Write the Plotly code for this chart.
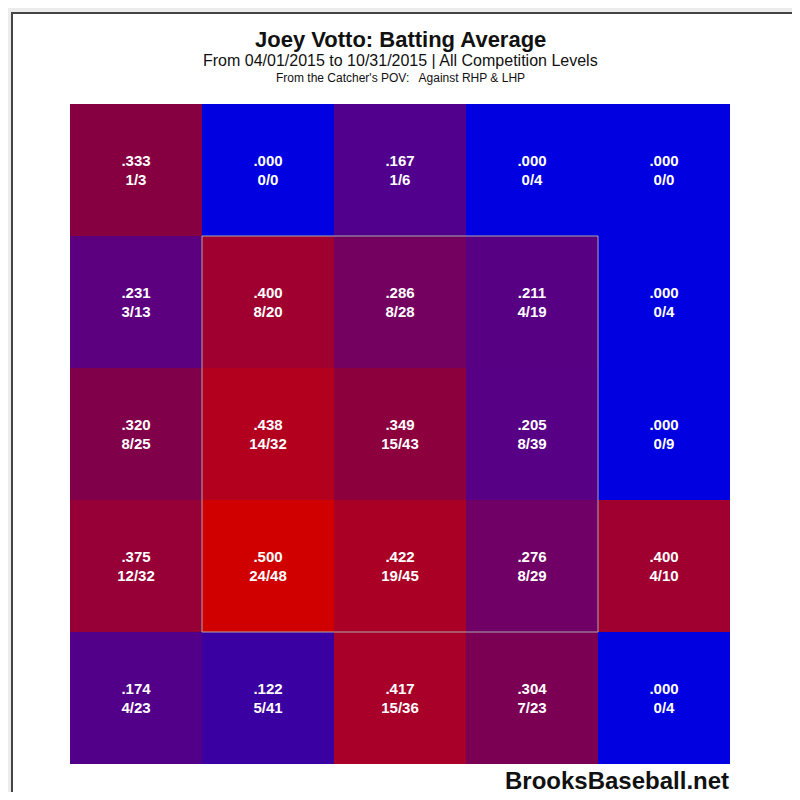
import plotly.graph_objects as go

# zone grid, rows top to bottom, columns left to right (catcher's POV)
hits = [
    [1, 0, 1, 0, 0],
    [3, 8, 8, 4, 0],
    [8, 14, 15, 8, 0],
    [12, 24, 19, 8, 4],
    [4, 5, 15, 7, 0],
]
at_bats = [
    [3, 0, 6, 4, 0],
    [13, 20, 28, 19, 4],
    [25, 32, 43, 39, 9],
    [32, 48, 45, 29, 10],
    [23, 41, 36, 23, 4],
]
avg_labels = [
    [".333", ".000", ".167", ".000", ".000"],
    [".231", ".400", ".286", ".211", ".000"],
    [".320", ".438", ".349", ".205", ".000"],
    [".375", ".500", ".422", ".276", ".400"],
    [".174", ".122", ".417", ".304", ".000"],
]

avg = [[h / ab if ab else 0 for h, ab in zip(hr, ar)] for hr, ar in zip(hits, at_bats)]
text = [[f"<b>{a}<br>{h}/{ab}</b>" for a, h, ab in zip(lr, hr, ar)]
        for lr, hr, ar in zip(avg_labels, hits, at_bats)]

scale = [
    [0.0, "#0000e0"], [0.33, "#50008c"], [0.46, "#5c0080"], [0.57, "#740060"],
    [0.67, "#870040"], [0.8, "#a00030"], [1.0, "#d00000"],
]

fig = go.Figure(go.Heatmap(
    z=avg, x=list(range(5)), y=list(range(5)),
    text=text, texttemplate="%{text}",
    textfont=dict(color="white", size=15, family="Liberation Sans"),
    colorscale=scale, zmin=0, zmax=0.5, showscale=False, hoverinfo="skip",
))

# page pixel -> paper coords (page body has an 8px offset)
def py(p):
    return (756 - p) / 660

def px_(p):
    return (p - 62) / 660

fig.add_shape(type="rect", xref="paper", yref="paper", layer="below",
              x0=px_(4), x1=px_(796), y0=py(793), y1=py(5),
              fillcolor="white", line=dict(color="#444", width=2))
# strike zone
fig.add_shape(type="rect", x0=0.5, x1=3.5, y0=0.5, y1=3.5,
              line=dict(color="#aaaaaa", width=1), layer="above")

def label(txt, x, y, size):
    fig.add_annotation(text=txt, xref="paper", yref="paper", x=x, y=y,
                       xanchor="center", yanchor="middle", showarrow=False,
                       font=dict(size=size, color="#111"))

label("<b>Joey Votto: Batting Average</b>", 0.5, py(31), 22)
label("From 04/01/2015 to 10/31/2015 | All Competition Levels", 0.5, py(52), 16)
label("From the Catcher's POV:   Against RHP & LHP", 0.5, py(70), 12)
label("<b>BrooksBaseball.net</b>", px_(609), py(772), 24)

fig.update_xaxes(visible=False, range=[-0.5, 4.5])
fig.update_yaxes(visible=False, range=[4.5, -0.5])
fig.update_layout(
    width=784, height=784, margin=dict(l=62, r=62, t=96, b=28),
    paper_bgcolor="#ececec", plot_bgcolor="white",
    font=dict(family="Liberation Sans"),
)
fig.write_html("out.html")
